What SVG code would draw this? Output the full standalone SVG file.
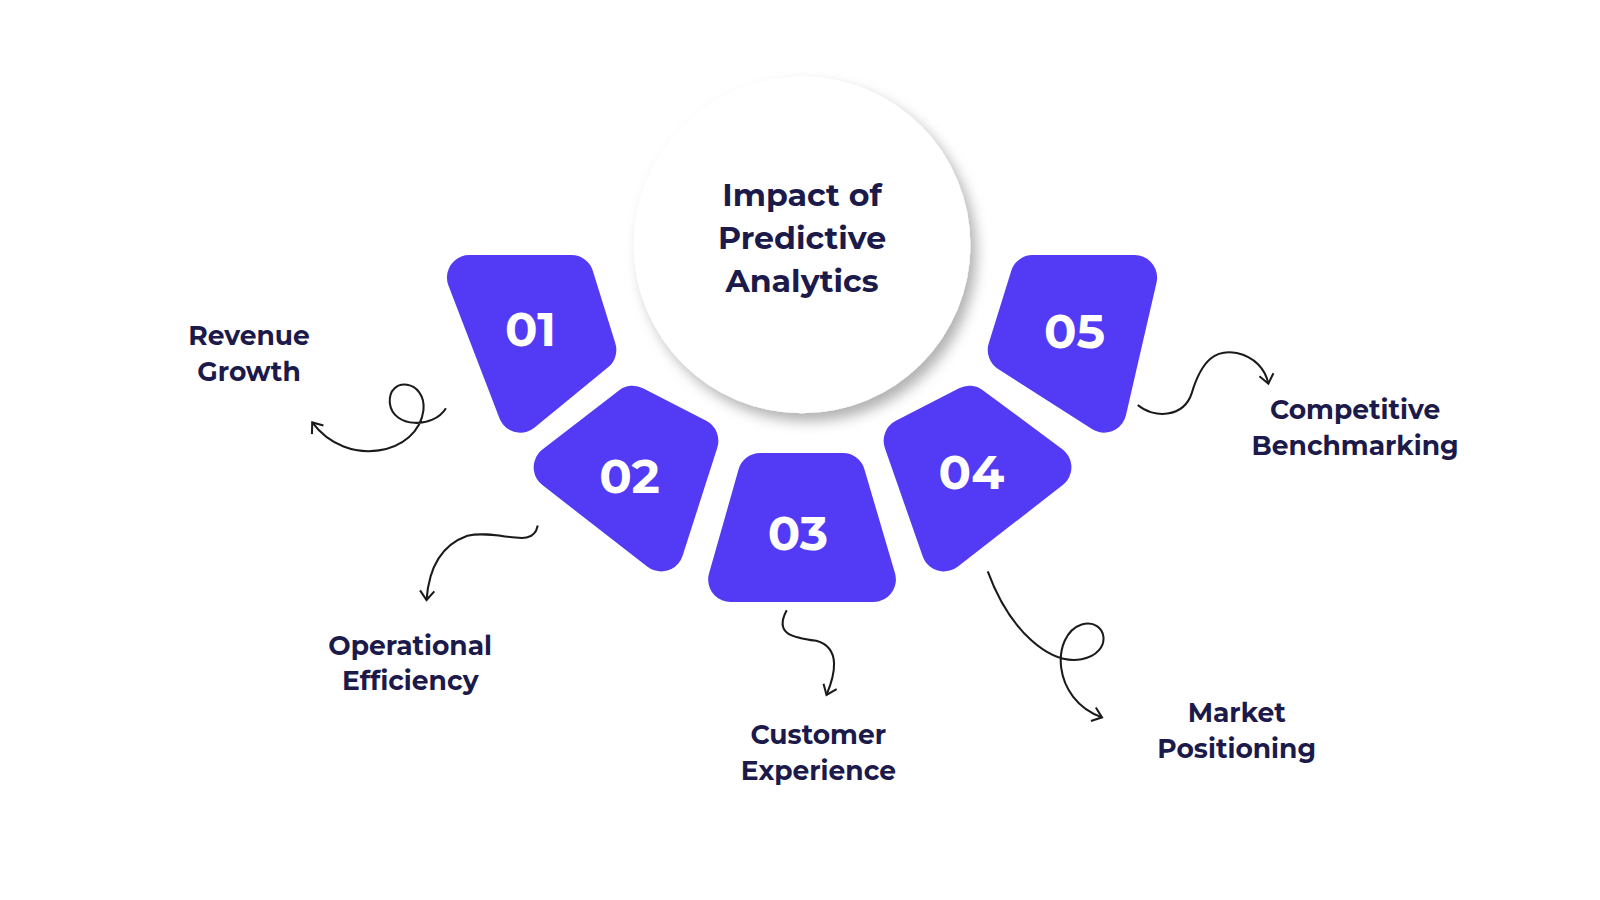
<svg xmlns="http://www.w3.org/2000/svg" width="1600" height="900" viewBox="0 0 1600 900">
<defs>
<style>
.seg{fill:#533AF5;stroke:#533AF5;stroke-width:44;stroke-linejoin:round}
.num{font-family:Montserrat,"Noto Sans",sans-serif;font-weight:700;font-size:47px;fill:#fff;text-anchor:middle}
.lbl{font-family:Montserrat,"Noto Sans",sans-serif;font-weight:700;font-size:26px;fill:#1c1a4a;text-anchor:middle}
.ttl{font-family:Montserrat,"Noto Sans",sans-serif;font-weight:700;font-size:31px;fill:#1c1a4a;text-anchor:middle}
.con{fill:none;stroke:#1a1a1a;stroke-width:2;marker-end:url(#ah)}
</style>
<marker id="ah" viewBox="-12 -9 14 18" markerWidth="14" markerHeight="18" markerUnits="userSpaceOnUse" orient="auto"><path d="M-9,-7 L0,0 L-9,7" fill="none" stroke="#1a1a1a" stroke-width="2"/></marker>
<filter id="sh" x="-20%" y="-20%" width="150%" height="150%"><feDropShadow dx="6" dy="8" stdDeviation="6" flood-color="#000" flood-opacity="0.3"/></filter>
</defs>
<rect width="1600" height="900" fill="#fff"/>
<g transform="scale(1.0204)">
<g id="center"><circle cx="786" cy="240" r="165" fill="#fff" filter="url(#sh)"/>
<text class="ttl" x="786" y="202">Impact of</text><text class="ttl" x="786" y="244">Predictive</text><text class="ttl" x="786" y="286">Analytics</text></g>
<g id="n1"><path class="seg" d="M460,272 L560,272 L582,343 L510,402 Z"/><text class="num" x="520" y="339">01</text></g>
<g id="n2"><path class="seg" d="M545,458 L620,400 L682,432 L648,538 Z"/><text class="num" x="617" y="483">02</text></g>
<g id="n3"><path class="seg" d="M745,466 L826,466 L856,568 L716,568 Z"/><text class="num" x="782" y="539">03</text></g>
<g id="n4"><path class="seg" d="M888,432 L950,400 L1028,458 L925,538 Z"/><text class="num" x="952" y="479">04</text></g>
<g id="n5"><path class="seg" d="M1012,272 L1112,272 L1082,402 L990,343 Z"/><text class="num" x="1053" y="341">05</text></g>
<g id="labels">
<text class="lbl" x="244" y="338">Revenue</text><text class="lbl" x="244" y="373">Growth</text>
<text class="lbl" x="402" y="642">Operational</text><text class="lbl" x="402" y="676">Efficiency</text>
<text class="lbl" x="802" y="729">Customer</text><text class="lbl" x="802" y="764">Experience</text>
<text class="lbl" x="1212" y="708">Market</text><text class="lbl" x="1212" y="743">Positioning</text>
<text class="lbl" x="1328" y="411">Competitive</text><text class="lbl" x="1328" y="446">Benchmarking</text>
</g>
<g id="connectors">
<path class="con" d="M437,400 C425,420 385,420 382,395 C380,368 418,372 415,402 C410,445 340,460 306,414"/>
<path class="con" d="M527,515 C522,540 490,518 458,525 C430,535 420,560 418,588"/>
<path class="con" d="M771,598 C758,622 778,625 800,628 C825,635 818,662 810,681"/>
<path class="con" d="M968,560 C990,620 1030,652 1060,646 C1092,640 1085,605 1060,612 C1030,622 1030,685 1080,703"/>
<path class="con" d="M1115,397 C1130,410 1160,410 1168,385 C1178,352 1192,342 1212,346 C1230,350 1240,362 1243,376"/>
</g>
</g>
</svg>
